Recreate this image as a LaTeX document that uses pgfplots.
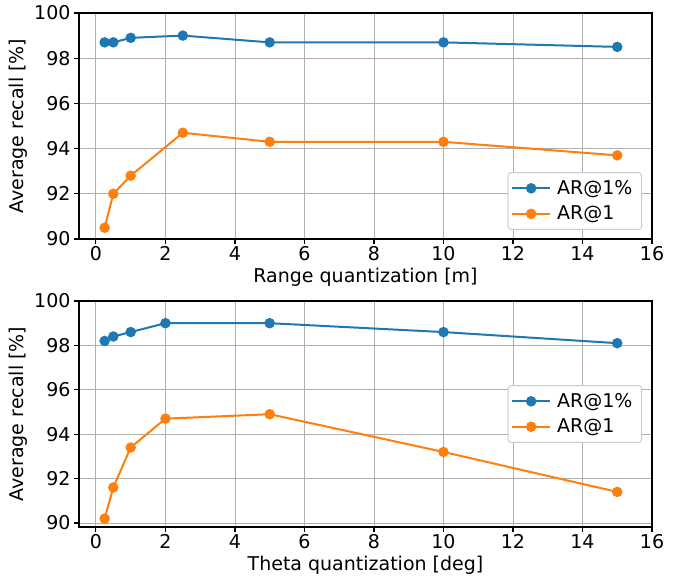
\documentclass[border=0pt]{standalone}
\usepackage{pgfplots}
\pgfplotsset{compat=1.18}
\usepackage{fontspec}
\setmainfont{DejaVu Sans}
\definecolor{c0}{HTML}{1F77B4}
\definecolor{c1}{HTML}{FF7F0E}
\pgfplotsset{
  myaxis/.style={
    scale only axis, width=573pt, height=226pt,
    xmin=-0.4875, xmax=16,
    xtick={0,2,...,16}, ytick={90,92,...,100},
    grid=major, grid style={color=black!31, line width=0.9pt},
    axis line style={line width=1.1pt},
    tick style={black, line width=1.1pt},
    tick align=outside, major tick length=5pt,
    xtick pos=bottom, ytick pos=left,
    /pgf/number format/assume math mode=true,
    ticklabel style={font=\fontsize{19}{23}\selectfont},
    label style={font=\fontsize{19}{23}\selectfont},
    xticklabel style={yshift=1pt},
    ylabel={Average recall [\%]},
    legend cell align=left,
    legend style={font=\fontsize{19}{23}\selectfont, draw=black!20, line width=1pt, rounded corners=3pt, inner xsep=3pt, inner ysep=7pt, row sep=8pt, nodes={inner ysep=1pt, inner xsep=6pt}},
    legend image code/.code={\draw[mark repeat=2, mark phase=2, #1] plot coordinates {(0pt,0pt) (19pt,0pt) (38pt,0pt)};},
    every axis plot/.append style={line width=2pt, mark=*, mark size=4.2pt},
  }
}
\begin{document}
\begin{tikzpicture}
\begin{axis}[myaxis, at={(79pt,341pt)}, anchor=south west,
  ymin=90, ymax=100,
  xlabel={Range quantization [m]},
  legend style={at={(1,0)}, anchor=south east, xshift=-10pt, yshift=9pt}]
\addplot[c0, mark options={fill=c0, draw=c0}] coordinates {(0.25,98.7) (0.5,98.7) (1,98.9) (2.5,99.0) (5,98.7) (10,98.7) (15,98.5)};
\addlegendentry{AR@1\%}
\addplot[c1, mark options={fill=c1, draw=c1}] coordinates {(0.25,90.5) (0.5,92.0) (1,92.8) (2.5,94.7) (5,94.3) (10,94.3) (15,93.7)};
\addlegendentry{AR@1}
\end{axis}
\begin{axis}[myaxis, at={(79pt,53pt)}, anchor=south west,
  ymin=89.82, ymax=100,
  xlabel={Theta quantization [deg]},
  legend style={at={(1,0.5)}, anchor=east, xshift=-10pt}]
\addplot[c0, mark options={fill=c0, draw=c0}] coordinates {(0.25,98.2) (0.5,98.4) (1,98.6) (2,99.0) (5,99.0) (10,98.6) (15,98.1)};
\addlegendentry{AR@1\%}
\addplot[c1, mark options={fill=c1, draw=c1}] coordinates {(0.25,90.2) (0.5,91.6) (1,93.4) (2,94.7) (5,94.9) (10,93.2) (15,91.4)};
\addlegendentry{AR@1}
\end{axis}
\pgfresetboundingbox
\useasboundingbox (0,0) rectangle (677pt,580pt);
\end{tikzpicture}
\end{document}
